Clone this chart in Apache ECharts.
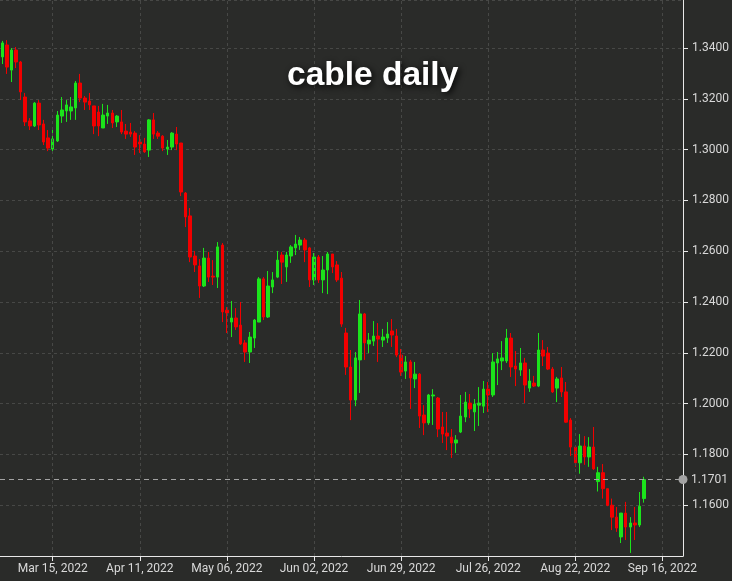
<!DOCTYPE html>
<html>
<head>
<meta charset="utf-8">
<script src="https://cdn.jsdelivr.net/npm/echarts@6/dist/echarts.min.js"></script>
<style>
html,body{margin:0;padding:0;background:#2a2b29;}
#chart{width:732px;height:581px;}
</style>
</head>
<body>
<div id="chart"></div>
<script>
// Trading-day categories (Feb 28, 2022 -> Sep 22, 2022)
const dates = [
'Feb 28, 2022','Mar 01, 2022','Mar 02, 2022','Mar 03, 2022','Mar 04, 2022',
'Mar 07, 2022','Mar 08, 2022','Mar 09, 2022','Mar 10, 2022','Mar 11, 2022',
'Mar 14, 2022','Mar 15, 2022','Mar 16, 2022','Mar 17, 2022','Mar 18, 2022',
'Mar 21, 2022','Mar 22, 2022','Mar 23, 2022','Mar 24, 2022','Mar 25, 2022',
'Mar 28, 2022','Mar 29, 2022','Mar 30, 2022','Mar 31, 2022','Apr 01, 2022',
'Apr 04, 2022','Apr 05, 2022','Apr 06, 2022','Apr 07, 2022','Apr 08, 2022',
'Apr 11, 2022','Apr 12, 2022','Apr 13, 2022','Apr 14, 2022','Apr 15, 2022',
'Apr 18, 2022','Apr 19, 2022','Apr 20, 2022','Apr 21, 2022','Apr 22, 2022',
'Apr 25, 2022','Apr 26, 2022','Apr 27, 2022','Apr 28, 2022','Apr 29, 2022',
'May 02, 2022','May 03, 2022','May 04, 2022','May 05, 2022','May 06, 2022',
'May 09, 2022','May 10, 2022','May 11, 2022','May 12, 2022','May 13, 2022',
'May 16, 2022','May 17, 2022','May 18, 2022','May 19, 2022','May 20, 2022',
'May 23, 2022','May 24, 2022','May 25, 2022','May 26, 2022','May 27, 2022',
'May 30, 2022','May 31, 2022','Jun 01, 2022','Jun 02, 2022','Jun 03, 2022',
'Jun 06, 2022','Jun 07, 2022','Jun 08, 2022','Jun 09, 2022','Jun 10, 2022',
'Jun 13, 2022','Jun 14, 2022','Jun 15, 2022','Jun 16, 2022','Jun 17, 2022',
'Jun 20, 2022','Jun 21, 2022','Jun 22, 2022','Jun 23, 2022','Jun 24, 2022',
'Jun 27, 2022','Jun 28, 2022','Jun 29, 2022','Jun 30, 2022','Jul 01, 2022',
'Jul 04, 2022','Jul 05, 2022','Jul 06, 2022','Jul 07, 2022','Jul 08, 2022',
'Jul 11, 2022','Jul 12, 2022','Jul 13, 2022','Jul 14, 2022','Jul 15, 2022',
'Jul 18, 2022','Jul 19, 2022','Jul 20, 2022','Jul 21, 2022','Jul 22, 2022',
'Jul 25, 2022','Jul 26, 2022','Jul 27, 2022','Jul 28, 2022','Jul 29, 2022',
'Aug 01, 2022','Aug 02, 2022','Aug 03, 2022','Aug 04, 2022','Aug 05, 2022',
'Aug 08, 2022','Aug 09, 2022','Aug 10, 2022','Aug 11, 2022','Aug 12, 2022',
'Aug 15, 2022','Aug 16, 2022','Aug 17, 2022','Aug 18, 2022','Aug 19, 2022',
'Aug 22, 2022','Aug 23, 2022','Aug 24, 2022','Aug 25, 2022','Aug 26, 2022',
'Aug 29, 2022','Aug 30, 2022','Aug 31, 2022','Sep 01, 2022','Sep 02, 2022',
'Sep 05, 2022','Sep 06, 2022','Sep 07, 2022','Sep 08, 2022','Sep 09, 2022',
'Sep 12, 2022','Sep 13, 2022','Sep 14, 2022','Sep 15, 2022','Sep 16, 2022',
'Sep 19, 2022','Sep 20, 2022','Sep 21, 2022','Sep 22, 2022'
];

const tickLabels = ['Mar 15, 2022','Apr 11, 2022','May 06, 2022','Jun 02, 2022',
  'Jun 29, 2022','Jul 26, 2022','Aug 22, 2022','Sep 16, 2022'];

const openVals = [
1.3365,1.3412,1.3313,1.3392,1.3345,1.3207,1.3113,1.3093,1.3183,1.3101,
1.3046,1.3002,1.3034,1.3132,1.3152,1.3152,1.3164,1.3262,1.3203,1.3191,
1.3172,1.3148,1.3085,1.3132,1.3144,1.3109,1.3109,1.3073,1.3069,1.3065,
1.3030,1.3022,1.2998,1.3117,1.3065,1.3053,1.3002,1.3010,1.3061,1.3026,
1.2829,1.2739,1.2581,1.2542,1.2463,1.2573,1.2502,1.2498,1.2624,1.2368,
1.2321,1.2337,1.2309,1.2239,1.2203,1.2258,1.2321,1.2491,1.2341,1.2459,
1.2498,1.2585,1.2538,1.2581,1.2613,1.2624,1.2644,1.2613,1.2487,1.2577,
1.2487,1.2526,1.2589,1.2546,1.2494,1.2278,1.2144,1.2014,1.2172,1.2353,
1.2235,1.2246,1.2266,1.2250,1.2258,1.2286,1.2266,1.2191,1.2128,1.2164,
1.2097,1.2116,1.1955,1.1924,1.2030,1.2022,1.1908,1.1884,1.1868,1.1845,
1.1888,1.1947,1.2002,1.1967,1.1994,1.1990,1.2057,1.2034,1.2160,1.2168,
1.2168,1.2258,1.2148,1.2132,1.2160,1.2061,1.2081,1.2069,1.2211,1.2199,
1.2136,1.2061,1.2101,1.2046,1.1935,1.1829,1.1767,1.1833,1.1790,1.1829,
1.1693,1.1728,1.1665,1.1600,1.1553,1.1475,1.1569,1.1514,1.1530,1.1522,
1.1626
];
const closeVals = [
1.3420,1.3325,1.3392,1.3345,1.3227,1.3109,1.3093,1.3183,1.3097,1.3030,
1.3006,1.3042,1.3136,1.3156,1.3176,1.3168,1.3262,1.3203,1.3187,1.3176,
1.3093,1.3093,1.3136,1.3144,1.3105,1.3132,1.3069,1.3061,1.3061,1.3010,
1.3022,1.2991,1.3117,1.3061,1.3053,1.3006,1.3010,1.3065,1.3022,1.2833,
1.2735,1.2577,1.2546,1.2463,1.2573,1.2498,1.2498,1.2617,1.2361,1.2357,
1.2337,1.2302,1.2235,1.2203,1.2262,1.2329,1.2491,1.2341,1.2463,1.2487,
1.2565,1.2557,1.2585,1.2617,1.2628,1.2644,1.2605,1.2487,1.2577,1.2487,
1.2526,1.2589,1.2538,1.2487,1.2313,1.2144,1.2014,1.2180,1.2353,1.2239,
1.2250,1.2266,1.2254,1.2262,1.2274,1.2270,1.2191,1.2124,1.2164,1.2101,
1.2116,1.1951,1.1924,1.2034,1.2034,1.1900,1.1880,1.1872,1.1845,1.1857,
1.1951,1.2006,1.1979,1.1998,1.2002,1.2057,1.2034,1.2164,1.2176,1.2180,
1.2258,1.2144,1.2136,1.2160,1.2073,1.2089,1.2069,1.2211,1.2187,1.2136,
1.2046,1.2097,1.2046,1.1927,1.1829,1.1767,1.1833,1.1790,1.1829,1.1743,
1.1728,1.1665,1.1600,1.1553,1.1510,1.1569,1.1514,1.1530,1.1522,1.1596,
1.1701
];
const lowVals = [
1.3337,1.3298,1.3266,1.3321,1.3195,1.3093,1.3077,1.3089,1.3077,1.3018,
1.2994,1.2991,1.3030,1.3105,1.3109,1.3117,1.3117,1.3187,1.3156,1.3156,
1.3061,1.3053,1.3085,1.3101,1.3085,1.3089,1.3061,1.3042,1.3050,1.2979,
1.2987,1.2987,1.2971,1.3042,1.3042,1.2994,1.2979,1.2998,1.2998,1.2817,
1.2695,1.2557,1.2518,1.2416,1.2459,1.2479,1.2467,1.2455,1.2321,1.2278,
1.2262,1.2290,1.2231,1.2164,1.2160,1.2219,1.2321,1.2329,1.2337,1.2435,
1.2494,1.2471,1.2479,1.2554,1.2585,1.2605,1.2557,1.2459,1.2467,1.2475,
1.2435,1.2431,1.2514,1.2479,1.2302,1.2113,1.1935,1.1990,1.2042,1.2172,
1.2199,1.2227,1.2164,1.2223,1.2239,1.2223,1.2183,1.2109,1.2097,1.1979,
1.2061,1.1904,1.1876,1.1916,1.1916,1.1868,1.1845,1.1817,1.1786,1.1806,
1.1884,1.1927,1.1943,1.1892,1.1912,1.1963,1.1967,1.2026,1.2073,1.2132,
1.2160,1.2105,1.2069,1.2109,1.2002,1.2046,1.2065,1.2065,1.2148,1.2132,
1.2042,1.2006,1.2026,1.1924,1.1794,1.1751,1.1724,1.1759,1.1751,1.1739,
1.1654,1.1626,1.1596,1.1502,1.1495,1.1451,1.1463,1.1412,1.1463,1.1514,
1.1610
];
const highVals = [
1.3428,1.3431,1.3400,1.3404,1.3349,1.3223,1.3124,1.3187,1.3195,1.3117,
1.3077,1.3081,1.3152,1.3207,1.3195,1.3207,1.3270,1.3298,1.3211,1.3223,
1.3172,1.3172,1.3180,1.3176,1.3156,1.3136,1.3156,1.3101,1.3105,1.3073,
1.3057,1.3046,1.3120,1.3144,1.3073,1.3057,1.3038,1.3069,1.3089,1.3026,
1.2833,1.2770,1.2601,1.2569,1.2613,1.2597,1.2565,1.2636,1.2632,1.2380,
1.2404,1.2376,1.2400,1.2250,1.2282,1.2333,1.2498,1.2498,1.2522,1.2518,
1.2601,1.2597,1.2597,1.2624,1.2664,1.2656,1.2652,1.2617,1.2593,1.2585,
1.2581,1.2597,1.2589,1.2561,1.2518,1.2298,1.2211,1.2203,1.2408,1.2357,
1.2278,1.2325,1.2317,1.2294,1.2321,1.2333,1.2294,1.2215,1.2187,1.2172,
1.2164,1.2120,1.1994,1.2038,1.2057,1.2026,1.1967,1.1967,1.1900,1.1876,
1.2034,1.2046,1.2038,1.2018,1.2065,1.2089,1.2085,1.2199,1.2203,1.2246,
1.2294,1.2278,1.2207,1.2219,1.2180,1.2136,1.2109,1.2278,1.2250,1.2223,
1.2144,1.2105,1.2144,1.2085,1.1943,1.1829,1.1880,1.1872,1.1868,1.1908,
1.1751,1.1762,1.1665,1.1626,1.1593,1.1569,1.1613,1.1553,1.1593,1.1652,
1.1712
];

const lastPrice = closeVals[closeVals.length - 1];
const ohlc = openVals.map((o, i) => [o, closeVals[i], lowVals[i], highVals[i]]);

const labelFont = "Roboto, 'Liberation Sans', sans-serif";
const gridColor = '#474846';
const upColor = '#1be41b';
const downColor = '#f20000';

const chart = echarts.init(document.getElementById('chart'), null, {renderer: 'canvas'});
chart.setOption({
  backgroundColor: '#2a2b29',
  animation: false,
  title: {
    text: 'cable daily',
    left: 287, top: 59, padding: 0,
    textStyle: {
      color: '#ffffff', fontSize: 33.5, fontWeight: 'bold',
      fontFamily: "'Liberation Sans', Arial, sans-serif",
      textShadowColor: 'rgba(0,0,0,0.9)', textShadowBlur: 6,
      textShadowOffsetX: 2, textShadowOffsetY: 2
    }
  },
  grid: {left: 0, right: 49, top: 0, bottom: 25},
  xAxis: {
    type: 'category', data: dates, boundaryGap: true,
    axisLine: {show: true, lineStyle: {color: '#e8e8e8', width: 1}},
    axisTick: {show: true, alignWithLabel: true, length: 5,
      interval: (i, v) => tickLabels.indexOf(v) >= 0,
      lineStyle: {color: '#e8e8e8'}},
    axisLabel: {interval: (i, v) => tickLabels.indexOf(v) >= 0,
      color: '#d9d9d9', fontSize: 12, fontFamily: labelFont, margin: 7},
    splitLine: {show: false}
  },
  yAxis: {
    type: 'value', position: 'right', min: 1.14, max: 1.3589, interval: 0.02,
    axisLine: {show: true, lineStyle: {color: '#e8e8e8', width: 1}},
    axisTick: {show: true, length: 5, lineStyle: {color: '#e8e8e8'}},
    axisLabel: {color: '#d9d9d9', fontSize: 12, fontFamily: labelFont, margin: 9,
      showMinLabel: false, showMaxLabel: false,
      formatter: v => v.toFixed(4)},
    splitLine: {show: true, lineStyle: {color: gridColor, type: [3, 3], width: 1}}
  },
  series: [
    {
      type: 'line', data: [], silent: true, z: 1,
      markLine: {
        silent: true, symbol: 'none', animation: false,
        label: {show: false},
        lineStyle: {color: gridColor, type: [3, 3], width: 1},
        data: tickLabels.map(d => ({xAxis: d}))
      }
    },
    {
      type: 'candlestick', z: 3, data: ohlc, barWidth: 3,
      itemStyle: {color: upColor, color0: downColor, borderColor: upColor,
        borderColor0: downColor, borderWidth: 1},
      markLine: {
        silent: true, symbol: ['none', 'circle'], symbolSize: 9, animation: false, precision: 4,
        lineStyle: {color: '#a3a3a3', type: [5, 4], width: 1},
        label: {show: true, position: 'end', color: '#d9d9d9', fontSize: 12,
          fontFamily: labelFont, distance: 8,
          formatter: () => lastPrice.toFixed(4)},
        data: [{yAxis: lastPrice}]
      }
    }
  ]
});
</script>
</body>
</html>
